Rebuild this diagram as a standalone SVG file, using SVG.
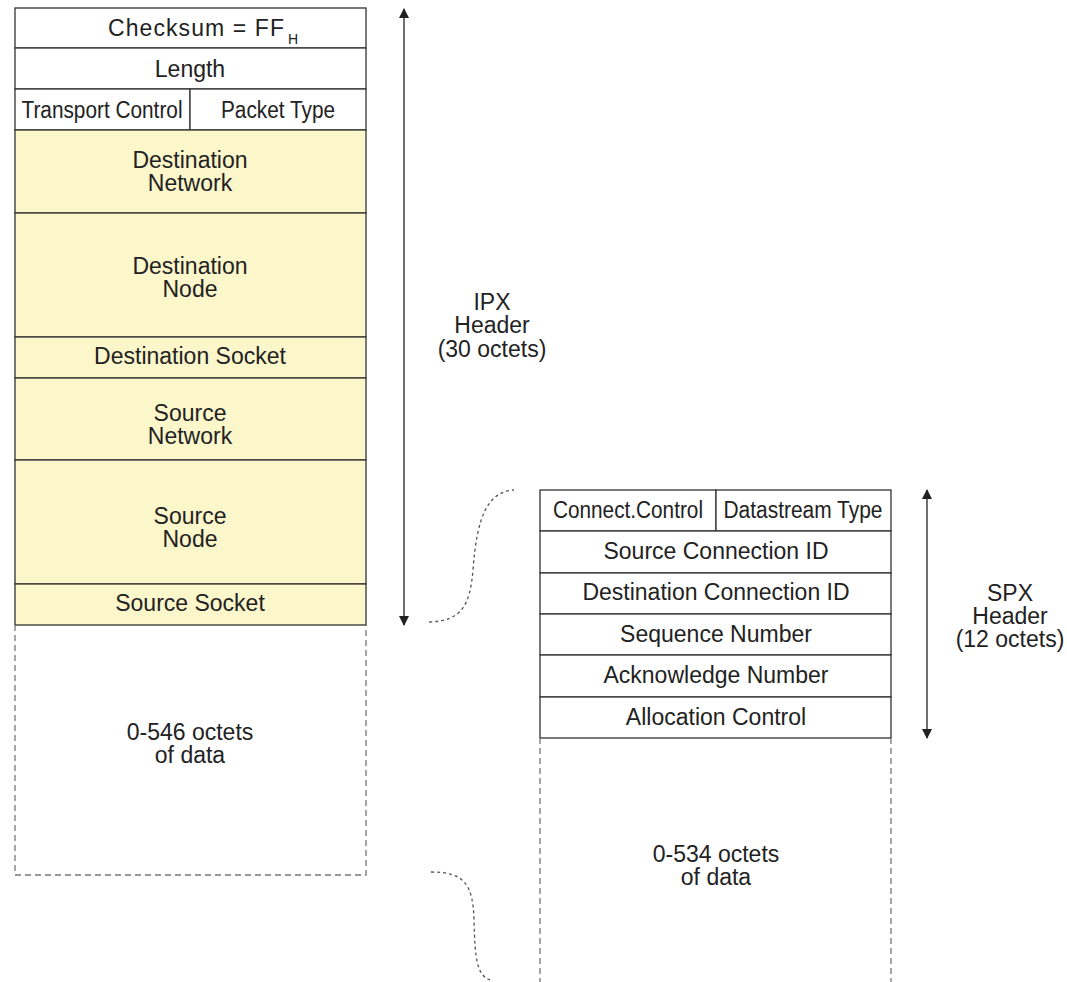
<svg xmlns="http://www.w3.org/2000/svg" width="1067" height="982" viewBox="0 0 1067 982">
<style>
text{font-family:"Liberation Sans",Arial,sans-serif;font-size:23px;fill:#222;text-anchor:middle}
text.sub{font-size:14px}
.c{fill:#fff;stroke:#333;stroke-width:1.3}
.y{fill:#fcf6cb;stroke:#333;stroke-width:1.3}
.d{fill:none;stroke:#777;stroke-width:1.3;stroke-dasharray:6,4}
.dot{fill:none;stroke:#555;stroke-width:1.3;stroke-dasharray:3,3}
.ar{stroke:#222;stroke-width:1.3;fill:none}
</style>
<defs>
<marker id="ah" viewBox="0 0 10 10" refX="9" refY="5" markerWidth="10" markerHeight="18" markerUnits="userSpaceOnUse" orient="auto">
<path d="M0,0 L10,5 L0,10 z" fill="#222"/>
</marker>
</defs>
<g id="ipx">
<g id="checksum"><rect class="c" x="15" y="8" width="351" height="40"/><text x="108" y="36" style="text-anchor:start" textLength="176" lengthAdjust="spacing">Checksum = FF</text><text class="sub" x="293" y="44">H</text></g>
<g id="length"><rect class="c" x="15" y="48" width="351" height="41"/><text x="190" y="77">Length</text></g>
<g id="transport"><rect class="c" x="15" y="89" width="175" height="41"/><text x="102" y="118" textLength="161" lengthAdjust="spacingAndGlyphs">Transport Control</text></g>
<g id="ptype"><rect class="c" x="190" y="89" width="176" height="41"/><text x="278" y="118" textLength="114" lengthAdjust="spacingAndGlyphs">Packet Type</text></g>
<g id="dnet"><rect class="y" x="15" y="130" width="351" height="83"/><text x="190" y="168">Destination</text><text x="190" y="191">Network</text></g>
<g id="dnode"><rect class="y" x="15" y="213" width="351" height="124"/><text x="190" y="274">Destination</text><text x="190" y="297">Node</text></g>
<g id="dsock"><rect class="y" x="15" y="337" width="351" height="41"/><text x="190" y="364">Destination Socket</text></g>
<g id="snet"><rect class="y" x="15" y="378" width="351" height="82"/><text x="190" y="421">Source</text><text x="190" y="444">Network</text></g>
<g id="snode"><rect class="y" x="15" y="460" width="351" height="124"/><text x="190" y="524">Source</text><text x="190" y="547">Node</text></g>
<g id="ssock"><rect class="y" x="15" y="584" width="351" height="41"/><text x="190" y="611">Source Socket</text></g>
<g id="ipxdata"><path class="d" d="M15,625 V875 H366 V625"/><text x="190" y="740">0-546 octets</text><text x="190" y="763">of data</text></g>
</g>
<g id="spx">
<g id="cc"><rect class="c" x="540" y="490" width="176" height="41"/><text x="628" y="518" textLength="150" lengthAdjust="spacingAndGlyphs">Connect.Control</text></g>
<g id="dst"><rect class="c" x="716" y="490" width="175" height="41"/><text x="803" y="518" textLength="159" lengthAdjust="spacingAndGlyphs">Datastream Type</text></g>
<g id="scid"><rect class="c" x="540" y="531" width="351" height="42"/><text x="716" y="559">Source Connection ID</text></g>
<g id="dcid"><rect class="c" x="540" y="573" width="351" height="41"/><text x="716" y="600">Destination Connection ID</text></g>
<g id="seq"><rect class="c" x="540" y="614" width="351" height="41"/><text x="716" y="642">Sequence Number</text></g>
<g id="ack"><rect class="c" x="540" y="655" width="351" height="42"/><text x="716" y="683">Acknowledge Number</text></g>
<g id="alloc"><rect class="c" x="540" y="697" width="351" height="41"/><text x="716" y="725">Allocation Control</text></g>
<g id="spxdata"><path class="d" d="M540,738 V982 M891,738 V982"/><text x="716" y="862">0-534 octets</text><text x="716" y="885">of data</text></g>
</g>
<g id="labels">
<text x="492" y="310">IPX</text><text x="492" y="333">Header</text><text x="492" y="357">(30 octets)</text>
<text x="1010" y="601">SPX</text><text x="1010" y="624">Header</text><text x="1010" y="647">(12 octets)</text>
</g>
<g id="connectors">
<line class="ar" x1="404" y1="317" x2="404" y2="9" marker-end="url(#ah)"/>
<line class="ar" x1="404" y1="317" x2="404" y2="625" marker-end="url(#ah)"/>
<line class="ar" x1="927" y1="614" x2="927" y2="490" marker-end="url(#ah)"/>
<line class="ar" x1="927" y1="614" x2="927" y2="738" marker-end="url(#ah)"/>
<path class="dot" d="M429,622 C462,621 470,605 473,570 C477,515 488,492 514,490"/>
<path class="dot" d="M431,872 C465,872 473,885 474,920 C475,960 477,975 490,980"/>
</g>
</svg>
